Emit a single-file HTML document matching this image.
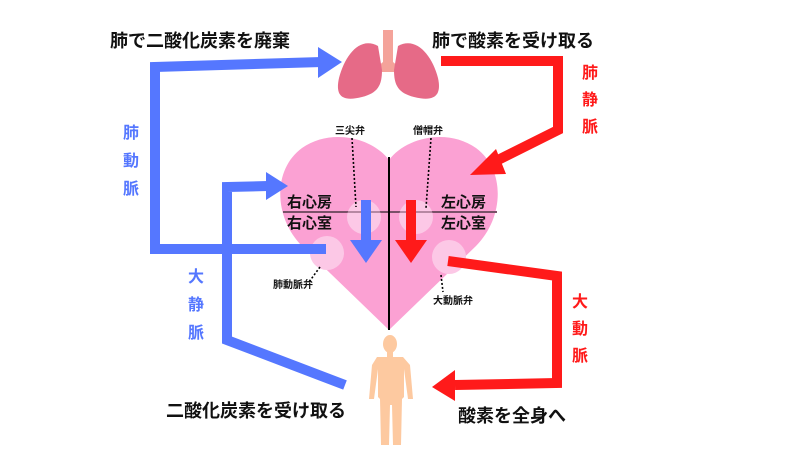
<!DOCTYPE html>
<html><head><meta charset="utf-8"><style>
html,body{margin:0;padding:0;background:#fff}
svg text{font-family:"Liberation Sans","Noto Sans CJK JP",sans-serif;font-weight:bold}
</style></head><body>
<svg width="800" height="450" viewBox="0 0 800 450" xmlns="http://www.w3.org/2000/svg">
<path d="M389,160 C372,137 330,128 302,148 C272,170 274,218 302,246 L389,330 L476,246 C504,218 506,170 476,148 C448,128 406,137 389,160Z" fill="#fba1d3"/>
<line x1="389" y1="157" x2="389" y2="330" stroke="#000" stroke-width="2"/>
<line x1="283" y1="212" x2="497" y2="212" stroke="#7a5068" stroke-width="2"/>
<g fill="#fcc8e6">
<circle cx="364" cy="217" r="17"/><circle cx="416" cy="217" r="17"/>
<circle cx="327" cy="253" r="17"/><circle cx="449" cy="257" r="17"/>
</g>
<line x1="283" y1="212" x2="497" y2="212" stroke="#7a5068" stroke-width="1.5" opacity="0.7"/>
<line x1="389" y1="157" x2="389" y2="330" stroke="#000" stroke-width="2"/>
<g stroke="#000" stroke-width="1.6" stroke-dasharray="2,2" fill="none">
<line x1="352" y1="138" x2="356" y2="207"/>
<line x1="431" y1="138" x2="426" y2="208"/>
<line x1="320" y1="267" x2="309" y2="282"/>
<line x1="441" y1="275" x2="443" y2="292"/>
</g>
<!-- lungs -->
<path d="M383,30 h10 v32 l12,10 h-34 l12,-10z" fill="#f4a39a"/>
<path d="M378,46 C360,36 345,55 339,78 C335,96 342,102 362,97 C378,93 382,85 382,70 Z" fill="#e66a87"/>
<path d="M398,46 C416,36 432,55 438,78 C442,96 434,102 414,97 C398,93 394,85 394,70 Z" fill="#e66a87"/>
<!-- body -->
<g fill="#fdc9a0">
<ellipse cx="390" cy="344" rx="7" ry="9"/>
<rect x="387" y="351" width="6" height="6"/>
<path d="M377,357 h26 l7,8 l3,34 h-5 l-4,-30 v28 l-2,2 l-1,46 h-8 l-1,-40 h-2 l-1,40 h-8 l-1,-46 l-2,-2 v-28 l-4,30 h-5 l3,-34z"/>
</g>
<g fill="none" stroke="#5577ff" stroke-width="10" stroke-linejoin="miter">
<polyline points="326,249 155,249 155,67 322,62"/>
<polyline points="345,385 227,340 227,187 268,186"/>
<line x1="366" y1="200" x2="366" y2="242"/>
</g>
<g fill="#5577ff">
<polygon points="318,47 342,62 318,78"/>
<polygon points="266,172 288,186 266,200"/>
<polygon points="350,240 382,240 366,263"/>
</g>
<g fill="none" stroke="#ff1a1a" stroke-width="10" stroke-linejoin="miter">
<polyline points="441,61 558,61 558,130 490,164"/>
<polyline points="448,261 557,276 557,383 455,385"/>
<line x1="411" y1="200" x2="411" y2="242"/>
</g>
<g fill="#ff1a1a">
<polygon points="496,149 470,175 506,174"/>
<polygon points="455,370 432,387 455,401"/>
<polygon points="395,240 427,240 411,263"/>
</g>
<g font-size="18" fill="#111">
<text x="110" y="47">肺で二酸化炭素を廃棄</text>
<text x="432" y="47">肺で酸素を受け取る</text>
<text x="166" y="417">二酸化炭素を受け取る</text>
<text x="458" y="422">酸素を全身へ</text>
</g>
<g font-size="15" fill="#111">
<text x="287" y="207">右心房</text><text x="287" y="228">右心室</text>
<text x="441" y="207">左心房</text><text x="441" y="228">左心室</text>
</g>
<g font-size="10" fill="#111">
<text x="335" y="134">三尖弁</text><text x="413" y="134">僧帽弁</text>
<text x="273" y="288">肺動脈弁</text><text x="433" y="304">大動脈弁</text>
</g>
<g font-size="16" fill="#5577ff" text-anchor="middle">
<text x="131" y="138">肺</text><text x="131" y="166">動</text><text x="131" y="194">脈</text>
<text x="196" y="282">大</text><text x="196" y="310">静</text><text x="196" y="338">脈</text>
</g>
<g font-size="16" fill="#ff1a1a" text-anchor="middle">
<text x="590" y="78">肺</text><text x="590" y="105">静</text><text x="590" y="132">脈</text>
<text x="580" y="307">大</text><text x="580" y="334">動</text><text x="580" y="361">脈</text>
</g>
</svg>
</body></html>
